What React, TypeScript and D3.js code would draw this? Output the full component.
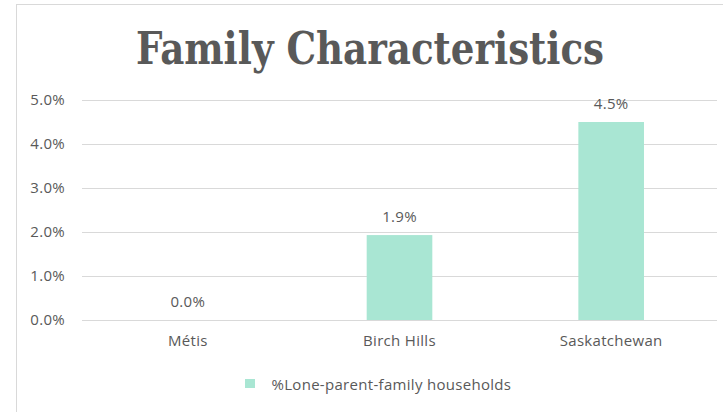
import React from "react";
import * as d3 from "d3";

const categories = ["Métis", "Birch Hills", "Saskatchewan"];
const values = [0.0, 0.0193, 0.045];
const valueLabels = ["0.0%", "1.9%", "4.5%"];
const yTicks = [0, 0.01, 0.02, 0.03, 0.04, 0.05];
const seriesName = "%Lone-parent-family households";
const title = "Family Characteristics";

const W = 723;
const H = 412;
const TEXT = "#595959";
const GRID = "#d9d9d9";
const BAR = "#a9e6d3";
const FONT = "'Open Sans', 'Noto Sans', sans-serif";
const FS = 15;
const LS = 0.3;

export default function App() {
  const x = d3.scaleBand<string>().domain(categories).range([82, 717]).paddingInner(0.69).paddingOuter(0.345);
  const y = d3.scaleLinear().domain([0, 0.05]).range([320, 100]);
  const fmt = d3.format(".1%");

  return (
    <svg width={W} height={H} style={{ position: "absolute", left: 0, top: 0, background: "#fff" }}>
      <rect x={16.5} y={4.5} width={W} height={H} fill="#fff" stroke={GRID} strokeWidth={1} />
      <text
        x={370}
        y={64}
        textAnchor="middle"
        textLength={468}
        lengthAdjust="spacingAndGlyphs"
        fontFamily="'DejaVu Serif Condensed', 'DejaVu Serif', serif"
        fontWeight="bold"
        fontSize={45}
        fill={TEXT}
      >
        {title}
      </text>
      {yTicks.map((t) => (
        <g key={t}>
          <line x1={82} x2={717} y1={Math.round(y(t)) + 0.5} y2={Math.round(y(t)) + 0.5} stroke={GRID} strokeWidth={1} />
          <text x={65} y={y(t) + 5} textAnchor="end" fontFamily={FONT} fontSize={FS} letterSpacing={LS} fill={TEXT}>
            {fmt(t)}
          </text>
        </g>
      ))}
      {categories.map((c, i) => (
        <g key={c}>
          {values[i] > 0 && (
            <rect x={x(c)} y={y(values[i])} width={x.bandwidth()} height={y(0) - y(values[i])} fill={BAR} />
          )}
          <text x={x(c)! + x.bandwidth() / 2} y={y(values[i]) - 13.5} textAnchor="middle" fontFamily={FONT} fontSize={FS} letterSpacing={LS} fill={TEXT}>
            {valueLabels[i]}
          </text>
          <text x={x(c)! + x.bandwidth() / 2} y={346} textAnchor="middle" fontFamily={FONT} fontSize={FS} letterSpacing={LS} fill={TEXT}>
            {c}
          </text>
        </g>
      ))}
      <rect x={245} y={379} width={10} height={9} fill={BAR} />
      <text x={271.5} y={390} fontFamily={FONT} fontSize={FS} letterSpacing={LS} fill={TEXT}>
        {seriesName}
      </text>
    </svg>
  );
}
